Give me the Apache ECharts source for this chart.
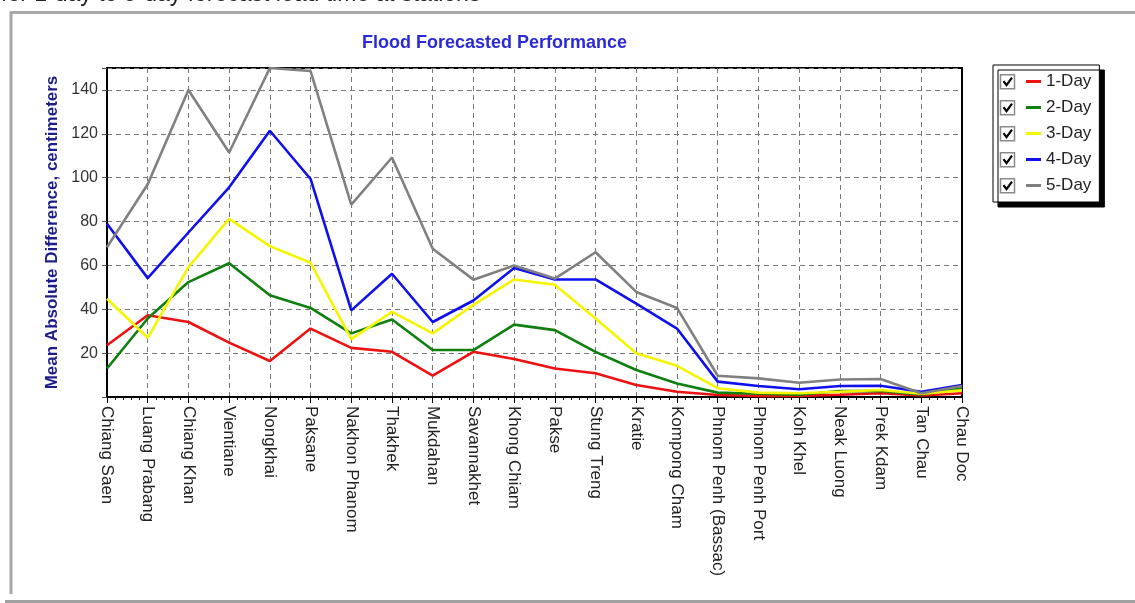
<!DOCTYPE html>
<html>
<head>
<meta charset="utf-8">
<script src="https://cdn.jsdelivr.net/npm/echarts@6/dist/echarts.min.js"></script>
<style>
html,body{margin:0;padding:0;background:#fff;}
#chart{width:1135px;height:603px;}
</style>
</head>
<body>
<div id="chart"></div>
<script>
const stations = ['Chiang Saen','Luang Prabang','Chiang Khan','Vientiane','Nongkhai','Paksane','Nakhon Phanom','Thakhek','Mukdahan','Savannakhet','Khong Chiam','Pakse','Stung Treng','Kratie','Kompong Cham','Phnom Penh (Bassac)','Phnom Penh Port','Koh Khel','Neak Luong','Prek Kdam','Tan Chau','Chau Doc'];
const seriesNames = ['1-Day','2-Day','3-Day','4-Day','5-Day'];
const day1 = [23.6, 37.3, 34.2, 24.8, 16.4, 31.2, 22.4, 20.6, 9.7, 20.6, 17.3, 13, 10.8, 5.5, 2.4, 0.9, 0.5, 0.5, 1, 1.7, 0.7, 1.7];
const day2 = [13, 35.8, 52.4, 61, 46.4, 40.6, 29, 35.3, 21.4, 21.4, 33, 30.5, 20.6, 12.3, 6.2, 2, 1.5, 1, 2.7, 2.7, 1.2, 4];
const day3 = [44.8, 27, 59.2, 81.2, 68.8, 61.2, 26.4, 38.8, 29, 42, 53.6, 51.2, 35.8, 19.9, 14.2, 4, 2, 1.7, 2.4, 3.2, 1.5, 3];
const day4 = [79, 54.2, 75, 95.6, 121.4, 99.4, 39.5, 56.2, 34.2, 44, 58.8, 53.6, 53.6, 42.6, 31.2, 7, 5, 3.5, 5, 5.1, 2.4, 5.5];
const day5 = [68.3, 97, 140, 111.5, 150, 148.6, 87.7, 109.2, 67.6, 53.5, 60, 54, 66, 47.9, 40.6, 9.7, 8.5, 6.5, 8, 8.2, 1.7, 5];
const yTicks = [20, 40, 60, 80, 100, 120, 140];

const allData = [day1, day2, day3, day4, day5];
const colors = ['#ee1111', '#0f7f0f', '#f5f500', '#1010ee', '#808080'];
const FONT = 'Liberation Sans, Arial, sans-serif';

const chart = echarts.init(document.getElementById('chart'), null, {renderer: 'canvas'});

// legend checkbox graphics
const rowCenters = [81.7, 107.7, 133.7, 159.7, 185.7];
const checks = [];
rowCenters.forEach(c => {
  checks.push({type:'rect', z:100, shape:{x:1000.5, y:c-7, width:14, height:14}, style:{fill:'#fff', stroke:'#8a8a8a', lineWidth:1.5}});
  checks.push({type:'polyline', z:101, shape:{points:[[1003.5,c-0.5],[1006.5,c+3.5],[1012,c-4]]}, style:{stroke:'#000', lineWidth:2.2, fill:null}});
});

const option = {
  animation: false,
  backgroundColor: '#fff',
  title: {
    text: 'Flood Forecasted Performance',
    left: 362, top: 34, padding: 0,
    textStyle: {color:'#2a2ad8', fontSize:18, fontWeight:'bold', fontFamily: FONT}
  },
  legend: {
    data: seriesNames,
    orient: 'vertical',
    left: 993, top: 65,
    padding: [8, 8, 8, 33],
    itemGap: 9,
    itemWidth: 15, itemHeight: 3,
    icon: 'rect',
    backgroundColor: '#fff',
    borderColor: '#000', borderWidth: 1,
    shadowColor: '#000', shadowBlur: 0, shadowOffsetX: 5, shadowOffsetY: 5,
    textStyle: {fontSize:17, color:'#222', fontFamily: FONT, lineHeight:17},
    selectedMode: false
  },
  grid: {
    left: 107, top: 68, right: 173, bottom: 206,
    show: true, borderColor: '#000', borderWidth: 2, backgroundColor: '#fff'
  },
  xAxis: [{
    type: 'category',
    data: stations,
    boundaryGap: false,
    axisLine: {lineStyle:{color:'#000', width:2}},
    axisTick: {show:false},
    axisLabel: {rotate:-90, fontSize:17, color:'#222', fontFamily: FONT, margin:9, interval:0},
    splitLine: {show:true, lineStyle:{color:'#777', type:[5,4], width:1}}
  }, {
    type: 'value',
    min: 0, max: stations.length - 1, interval: 1,
    position: 'bottom',
    axisLine: {show:false},
    axisLabel: {show:false},
    splitLine: {show:false},
    axisTick: {show:true, length:6, lineStyle:{color:'#000', width:1}},
    minorTick: {show:true, splitNumber:5, length:3, lineStyle:{color:'#000', width:1}}
  }],
  yAxis: [{
    type: 'value',
    min: 0, max: 150, interval: 20,
    name: 'Mean Absolute Difference, centimeters',
    nameLocation: 'middle', nameRotate: 90, nameGap: 42,
    nameTextStyle: {color:'#1d1d8a', fontSize:17, fontWeight:'bold', fontFamily: FONT},
    axisLine: {show:true, lineStyle:{color:'#000', width:2}},
    axisTick: {show:true, length:5, lineStyle:{color:'#555'}},
    axisLabel: {
      fontSize:16, color:'#333', fontFamily: FONT, margin:9,
      formatter: v => (yTicks.indexOf(v) >= 0 ? String(v) : '')
    },
    splitLine: {show:true, lineStyle:{color:'#777', type:[5,4], width:1}}
  }, {
    type: 'value',
    min: 0, max: 150, interval: 50,
    position: 'right',
    axisLine: {show:true, lineStyle:{color:'#000', width:2}},
    axisTick: {show:false},
    axisLabel: {show:false},
    splitLine: {show:false}
  }],
  series: seriesNames.map((n, i) => ({
    name: n, type: 'line', data: allData[i],
    xAxisIndex: 0, yAxisIndex: 0,
    showSymbol: false, symbol: 'none',
    lineStyle: {color: colors[i], width: 2.6},
    itemStyle: {color: colors[i]},
    clip: true
  })),
  graphic: [
    {type:'text', left: 1, top: -17, z: 50, style:{text:'for 1-day to 5-day forecast lead time at stations', font:'23px Liberation Sans, Arial, sans-serif', fill:'#222'}},
    {type:'line', z:50, shape:{x1:11, y1:12, x2:11, y2:594}, style:{stroke:'#a8a8a8', lineWidth:3}},
    {type:'line', z:50, shape:{x1:10, y1:12.5, x2:1135, y2:12.5}, style:{stroke:'#a8a8a8', lineWidth:3}},
    {type:'line', z:50, shape:{x1:5, y1:601.5, x2:1135, y2:601.5}, style:{stroke:'#a0a0a0', lineWidth:3}}
  ].concat(checks)
};
chart.setOption(option);
</script>
</body>
</html>
